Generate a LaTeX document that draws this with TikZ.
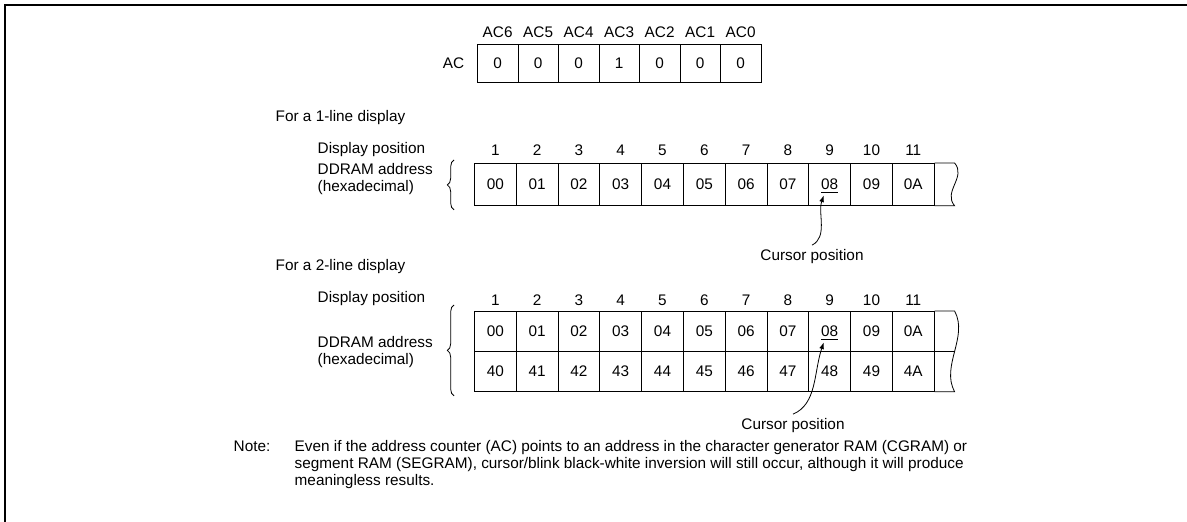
\documentclass[tikz,border=0pt]{standalone}
\usepackage{fontspec}
\setmainfont{Liberation Sans}
\usepackage{tikz}
\usetikzlibrary{positioning, arrows.meta, calc, decorations.pathreplacing}
\tikzset{
  framerule/.style={line width=1.5pt, line cap=rect},
  regcell/.style={
    draw, line width=0.6pt, anchor=north west, inner sep=0pt,
    minimum width=30.375pt, minimum height=28.5pt,
    text height=8.2pt, text depth=0pt
  },
  ramcell/.style={
    draw, line width=0.6pt, anchor=north west, inner sep=0pt,
    minimum width=31.35pt, minimum height=30pt,
    text height=8.2pt, text depth=0pt
  },
  ramline/.style={line width=0.6pt},
  poslabel/.style={inner sep=0pt, text height=8.2pt, text depth=0pt},
  plaintext/.style={align=left},
  bracemark/.style={decorate, decoration={brace, amplitude=5pt}, line width=0.6pt},
  cursorarrow/.style={-{Latex[length=5pt, width=3.6pt]}, line width=0.6pt}
}

\begin{document}
\begin{tikzpicture}[x=0.75pt, y=-0.75pt, font=\fontsize{11.5pt}{12.8pt}\selectfont]
      \useasboundingbox (0,0) rectangle (1187,521);
      \draw[framerule] (5,521) -- (5,5) -- (1187,5);

      % address counter
      \foreach \v [count=\i] in {0,0,0,1,0,0,0} {
        \pgfmathtruncatemacro{\b}{7-\i}
        \node[regcell] (ac\b) at ({477+(\i-1)*40.5}, 44) {\v};
        \node[poslabel, above=5pt of ac\b] (acl\b) {AC\b};
      }
      \node[plaintext, left=6pt of ac6] (aclabel) {AC};

      % 1-line display
      \node[plaintext, anchor=west] (one) at (271,118) {For a 1-line display};
      \node[plaintext, anchor=west] (dp1) at (313,150) {Display position};
      \node[plaintext, anchor=west] (dd1) at (313,179) {DDRAM address\\(hexadecimal)};
      \foreach \v [count=\i] in {00,01,02,03,04,05,06,07,\underline{08},09,0A} {
        \node[ramcell, minimum height=31.5pt] (a\i) at ({474+(\i-1)*41.8}, 163) {\v};
        \node[poslabel, above=5.5pt of a\i] (pa\i) {\i};
      }
      \coordinate (w1t) at ($(a11.north east)+(20,0)$);
      \coordinate (w1b) at ($(a11.south east)+(20,0)$);
      \draw[ramline] (a11.north east) -- (w1t) .. controls +(12,14) and +(-12,-14) .. (w1b) -- (a11.south east);
      \draw[bracemark] ($(a1.south west)+(-20,4)$) -- ($(a1.north west)+(-20,-3)$);
      \coordinate (tip1) at ($(a9.center)+(-6,11)$);
      \node[plaintext] (cur1) at (812,257) {Cursor position};
      \draw[cursorarrow] (cur1.north) .. controls +(16,-8) and +(-6,18) .. (tip1);

      % 2-line display
      \node[plaintext, anchor=west] (two) at (271,267) {For a 2-line display};
      \node[plaintext, anchor=west] (dp2) at (313,299) {Display position};
      \node[plaintext, anchor=west] (dd2) at (313,352) {DDRAM address\\(hexadecimal)};
      \foreach \v [count=\i] in {00,01,02,03,04,05,06,07,\underline{08},09,0A} {
        \node[ramcell] (b\i) at ({474+(\i-1)*41.8}, 311) {\v};
        \node[poslabel, above=4pt of b\i] (pb\i) {\i};
      }
      \foreach \v [count=\i] in {40,41,42,43,44,45,46,47,48,49,4A} {
        \node[ramcell] (c\i) at ({474+(\i-1)*41.8}, 351) {\v};
      }
      \coordinate (w2t) at ($(b11.north east)+(20,0)$);
      \coordinate (w2m) at ($(b11.south east)+(20,0)$);
      \coordinate (w2b) at ($(c11.south east)+(20,0)$);
      \draw[ramline] (b11.north east) -- (w2t) .. controls +(14,26) and +(-14,-26) .. (w2b) -- (c11.south east);
      \draw[ramline] (b11.south east) -- (w2m);
      \draw[bracemark] ($(c1.south west)+(-20,4)$) -- ($(b1.north west)+(-20,-6)$);
      \coordinate (tip2) at ($(b9.center)+(-6,11)$);
      \node[plaintext] (cur2) at (793,426) {Cursor position};
      \draw[cursorarrow] (cur2.north) .. controls +(24,-10) and +(-10,30) .. (tip2);

      % note
      \node[plaintext, anchor=north west] (notehd) at (229,435) {\strut Note:};
      \node[plaintext, anchor=north west] (notetxt) at (290,435) {\strut Even if the address counter (AC) points to an address in the character generator RAM (CGRAM) or\\
        segment RAM (SEGRAM), cursor/blink black-white inversion will still occur, although it will produce\\
        meaningless results.};
    \end{tikzpicture}
\end{document}
